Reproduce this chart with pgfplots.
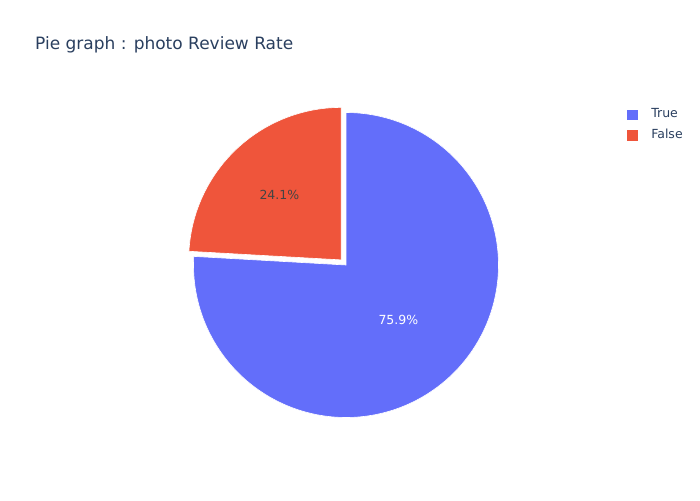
\documentclass[border=0pt]{standalone}
\usepackage{pgfplots}
\pgfplotsset{compat=1.18}
\usepackage{pgfplotstable}
\usepackage{fontspec}
\setmainfont{DejaVu Sans}
\definecolor{cTrue}{HTML}{636EFA}
\definecolor{cFalse}{HTML}{EF553B}
\definecolor{titlec}{HTML}{2A3F5F}
\definecolor{darktxt}{HTML}{444444}

\pgfplotstableread{
label value
True 75.9
False 24.1
}\piedata

\begin{document}
\begin{tikzpicture}
\pgfplotstablegetelem{0}{value}\of\piedata \let\vTrue\pgfplotsretval
\pgfplotstablegetelem{1}{value}\of\piedata \let\vFalse\pgfplotsretval
\pgfmathsetmacro\aEnd{90-3.6*\vTrue}
\pgfmathsetmacro\aStop{\aEnd-3.6*\vFalse}
\pgfmathsetmacro\mTrue{(90+\aEnd)/2}
\pgfmathsetmacro\mFalse{(\aEnd+\aStop)/2}
\pgfmathsetmacro\dx{0.046*cos(\mFalse)}
\pgfmathsetmacro\dy{0.046*sin(\mFalse)}
\pgfmathsetmacro\lTx{0.5*cos(\mTrue)}
\pgfmathsetmacro\lTy{0.5*sin(\mTrue)}
\pgfmathsetmacro\lFx{\dx+0.59*cos(\mFalse)}
\pgfmathsetmacro\lFy{\dy+0.59*sin(\mFalse)}
\path[use as bounding box] (0,0) rectangle (700pt,-500pt);
\node[anchor=base west, text=titlec, font=\fontsize{17}{20}\selectfont, inner sep=0pt] at (35pt,-50pt) {Pie graph : photo Review Rate};
\begin{axis}[
  at={(346pt,-265pt)}, anchor=center,
  scale only axis, width=305pt, height=305pt,
  xmin=-1, xmax=1, ymin=-1, ymax=1,
  hide axis, clip=false,
  legend cell align=left,
  legend style={at={(1.418,1.013)}, anchor=north west, draw=none, fill=none,
    font=\fontsize{12.5}{14}\selectfont, text=titlec,
    nodes={text height=9pt, text depth=3pt, inner sep=0pt},
    row sep=8pt, inner sep=0pt},
  legend image code/.code={\fill[#1] (0pt,-5.8pt) rectangle (11.5pt,5.8pt);},
]
\addplot[fill=cTrue, draw=white, line width=0.6pt, domain=\aEnd:90, samples=200, variable=\t]
  ({cos(t)},{sin(t)}) -- (axis cs:0,0) -- cycle;
\addlegendentry{\hspace{13pt}True}
\addplot[fill=cFalse, draw=white, line width=0.6pt, domain=\aStop:\aEnd, samples=100, variable=\t]
  ({\dx+cos(t)},{\dy+sin(t)}) -- (axis cs:\dx,\dy) -- cycle;
\addlegendentry{\hspace{13pt}False}
\node[text=white, font=\fontsize{12.5}{14}\selectfont] at (axis cs:\lTx,\lTy) {75.9\%};
\node[text=darktxt, font=\fontsize{12.5}{14}\selectfont] at (axis cs:\lFx,\lFy) {24.1\%};
\end{axis}
\end{tikzpicture}
\end{document}
